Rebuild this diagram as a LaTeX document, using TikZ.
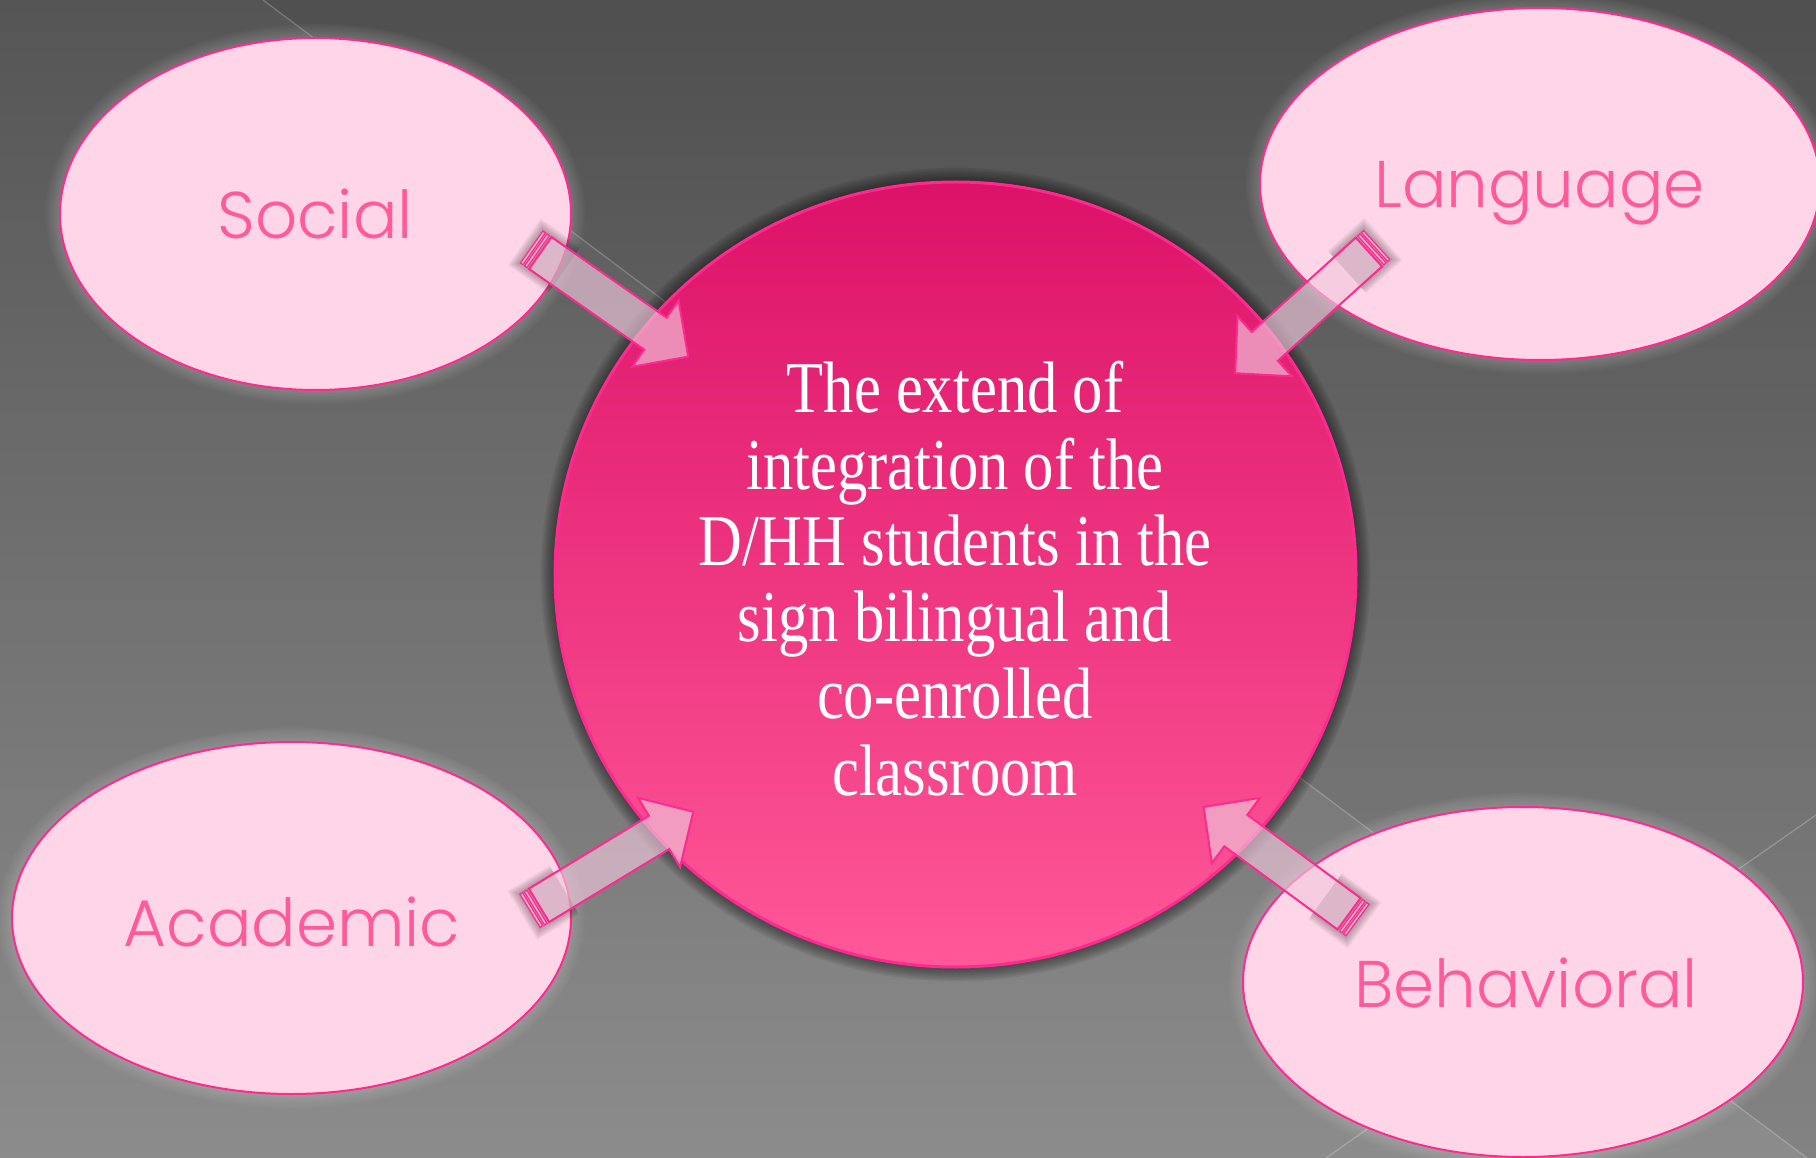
\documentclass[tikz,border=0pt]{standalone}
\usepackage{fontspec}
\setmainfont{Liberation Serif}
\newfontfamily\hubfont[FakeStretch=0.83]{Liberation Serif}
\newfontfamily\petalfont{Poppins Light}
\usetikzlibrary{shapes.geometric,calc}

\definecolor{bgtop}{HTML}{555555}
\definecolor{bgmid}{HTML}{6A6A6A}
\definecolor{bgbot}{HTML}{8C8C8C}
\definecolor{hubtop}{HTML}{DC1268}
\definecolor{hubbot}{HTML}{FF5898}
\definecolor{rim}{HTML}{FF2A8F}
\definecolor{petal}{HTML}{FFD6E8}
\definecolor{petaltext}{HTML}{FF5A9A}
\definecolor{arrowfill}{HTML}{F0C8DC}

\tikzset{
  petal/.style={ellipse, draw=rim, line width=2pt, fill=petal, inner sep=0pt},
  petallabel/.style={anchor=base, text=petaltext, inner sep=0pt,
    font=\petalfont\fontsize{66}{70}\selectfont},
  hub/.style={ellipse, draw=rim, line width=3pt, top color=hubtop, bottom color=hubbot,
    inner sep=0pt, minimum width=801pt, minimum height=785pt},
  hubline/.style={anchor=base, text=white, inner sep=0pt,
    font=\hubfont\fontsize{73}{77}\selectfont},
  arrowbody/.style={draw=rim, line width=2pt, fill=arrowfill, fill opacity=0.65, line join=miter},
  arrowstripe/.style={draw=rim, line width=1.2pt, fill=arrowfill, fill opacity=0.65},
  streak/.style={white, opacity=0.22, line width=1.3pt},
}

% striped block arrow from the first named point to the second
\newcommand\stripedarrow[2]{%
  \pgfmathanglebetweenpoints{\pgfpointanchor{#1}{center}}{\pgfpointanchor{#2}{center}}%
  \edef\arrowangle{\pgfmathresult}%
  \begin{scope}[shift={(#1)}, rotate=\arrowangle]
    \foreach \k in {1,...,6}
      \fill[black, opacity=0.05] (-\k*1.5, -19.5-\k*1.5) rectangle (40, 19.5+\k*1.5);
    \filldraw[arrowstripe] (0,-19.5) rectangle (3,19.5);
    \filldraw[arrowstripe] (5,-19.5) rectangle (8,19.5);
    \filldraw[arrowbody] (10.5,-19.5) -- (151,-19.5) -- (151,-40.5) -- (191,0)
      -- (151,40.5) -- (151,19.5) -- (10.5,19.5) -- cycle;
  \end{scope}}

% soft halo around an ellipse: #1 centre, #2 x radius, #3 y radius, #4 colour, #5 opacity
\newcommand\halo[5]{%
  \foreach \k in {1,...,9}
    \fill[#4, opacity=#5] (#1) ellipse [x radius=#2+\k*1.6, y radius=#3+\k*1.6];}

\begin{document}
\begin{tikzpicture}[x=1pt, y=-1pt]
  \useasboundingbox (0,0) rectangle (1816,1158);

  % backdrop
  \shade[top color=bgtop, middle color=bgmid, bottom color=bgbot]
    (0,0) rectangle (1816,1158);
  \fill[black, opacity=0.06] (263,0) -- (1816,0) -- (1816,1158) -- (1807,1158) -- cycle;
  \draw[streak] (263,0) -- (1807,1158);
  \draw[streak] (1326,1158) -- (1816,815);

  % centres
  \coordinate (hubc) at (955.5,574.5);
  \coordinate (socc) at (315.5,214);
  \coordinate (lanc) at (1540,184);
  \coordinate (acac) at (291.5,918);
  \coordinate (behc) at (1523,982);

  % central circle with its shadow
  \halo{hubc}{400.5}{392.5}{black}{0.06}
  \node[hub] (hub) at (hubc) {};

  % outer ellipses with a light glow
  \halo{socc}{255.5}{176}{white}{0.025}
  \halo{lanc}{280}{176}{white}{0.025}
  \halo{acac}{279.5}{176}{white}{0.025}
  \halo{behc}{280}{175}{white}{0.025}
  \node[petal, minimum width=511pt, minimum height=352pt] (social) at (socc) {};
  \node[petal, minimum width=560pt, minimum height=352pt] (language) at (lanc) {};
  \node[petal, minimum width=559pt, minimum height=352pt] (academic) at (acac) {};
  \node[petal, minimum width=560pt, minimum height=350pt] (behavioral) at (behc) {};

  \node[petallabel] (social-t) at (315,239) {Social};
  \node[petallabel] (language-t) at (1539.5,208) {Language};
  \node[petallabel] (academic-t) at (292,946) {Academic};
  \node[petallabel] (behavioral-t) at (1526,1007) {Behavioral};

  % text of the central circle
  \node[hubline] (h1) at (955,412) {The extend of};
  \node[hubline] (h2) at (955,489) {integration of the};
  \node[hubline] (h3) at (955,565) {D/HH students in the};
  \node[hubline] (h4) at (955,641) {sign bilingual and};
  \node[hubline] (h5) at (955,718) {co-enrolled};
  \node[hubline] (h6) at (955,795) {classroom};

  % arrows from each ellipse into the circle
  \coordinate (soc-tail) at (531.7,247);
  \coordinate (soc-tip) at (688.3,356.7);
  \coordinate (lan-tail) at (1376.7,245);
  \coordinate (lan-tip) at (1235,373.3);
  \coordinate (aca-tail) at (530,910.8);
  \coordinate (aca-tip) at (693.3,811.7);
  \coordinate (beh-tail) at (1357.5,920);
  \coordinate (beh-tip) at (1203.3,806.7);
  \stripedarrow{soc-tail}{soc-tip}
  \stripedarrow{lan-tail}{lan-tip}
  \stripedarrow{aca-tail}{aca-tip}
  \stripedarrow{beh-tail}{beh-tip}
\end{tikzpicture}
\end{document}
